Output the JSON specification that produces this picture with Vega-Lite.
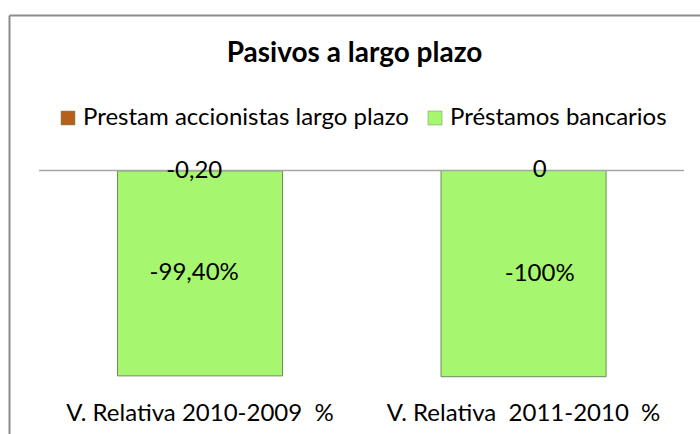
{
  "$schema": "https://vega.github.io/schema/vega-lite/v6.json",
  "width": 691,
  "height": 419,
  "autosize": {"type": "none"},
  "padding": {"left": 9, "top": 15, "right": 0, "bottom": 0},
  "background": "white",
  "title": {"text": "Pasivos a largo plazo", "font": "Lato", "fontSize": 28, "fontWeight": "bold", "color": "#000000", "anchor": "middle", "offset": -75, "baseline": "alphabetic"},
  "config": {"view": {"stroke": null}, "font": "Lato"},
  "datasets": {
    "main": [
      {"cat": "V. Relativa 2010-2009\u00a0 %", "series": "Prestam accionistas largo plazo", "value": -0.2, "label": "-0,20"},
      {"cat": "V. Relativa 2010-2009\u00a0 %", "series": "Préstamos bancarios", "value": -99.4, "label": "-99,40%"},
      {"cat": "V. Relativa\u00a0 2011-2010\u00a0 %", "series": "Prestam accionistas largo plazo", "value": 0, "label": "0"},
      {"cat": "V. Relativa\u00a0 2011-2010\u00a0 %", "series": "Préstamos bancarios", "value": -100, "label": "-100%"}
    ]
  },
  "layer": [
    {
      "data": {"name": "main"},
      "transform": [
        {"stack": "value", "groupby": ["cat"], "sort": [{"field": "series", "order": "ascending"}], "as": ["v0", "v1"]}
      ],
      "mark": {"type": "bar", "stroke": "#6e8c5a", "strokeWidth": 1},
      "encoding": {
        "x": {"field": "cat", "type": "nominal", "sort": null,
          "scale": {"paddingInner": 0.4898, "paddingOuter": 0.3128, "align": 0.536},
          "axis": {"orient": "bottom", "domain": false, "ticks": false, "grid": false, "labelFontSize": 24, "labelFont": "Lato", "labelColor": "#000000", "labelAngle": 0, "labelBaseline": "middle", "labelPadding": -21, "labelLimit": 600, "title": null}},
        "y": {"field": "v1", "type": "quantitative",
          "scale": {"domain": [-127.79, 75.41], "nice": false, "zero": false},
          "axis": {"orient": "left", "domain": true, "domainColor": "#8c8c8c", "domainWidth": 2, "ticks": false, "labels": false, "grid": false, "title": null}},
        "y2": {"field": "v0"},
        "color": {"field": "series", "type": "nominal",
          "scale": {"domain": ["Prestam accionistas largo plazo", "Préstamos bancarios"], "range": ["#b5611c", "#a6f76f"]},
          "legend": {"orient": "none", "legendX": 47, "legendY": 91, "direction": "horizontal", "columns": 2, "title": null, "symbolType": "square", "symbolSize": 196, "symbolStrokeWidth": 0.5, "labelFontSize": 24, "labelFont": "Lato", "labelColor": "#000000", "labelOffset": 3, "columnPadding": 14, "labelLimit": 600, "padding": 0}}
      }
    },
    {
      "data": {"values": [{}]},
      "mark": {"type": "rule", "color": "#a6a6a6", "strokeWidth": 1.5},
      "encoding": {
        "x": {"datum": 0, "type": "quantitative",
          "scale": {"domain": [-0.0465, 1.0248], "nice": false, "zero": false},
          "axis": {"orient": "top", "domain": true, "domainColor": "#8c8c8c", "domainWidth": 2, "ticks": false, "labels": false, "grid": false, "title": null}},
        "x2": {"datum": 1},
        "y": {"datum": 0, "type": "quantitative", "scale": {"domain": [-127.79, 75.41], "nice": false, "zero": false}}
      }
    },
    {
      "data": {"name": "main"},
      "transform": [
        {"stack": "value", "groupby": ["cat"], "sort": [{"field": "series", "order": "ascending"}], "as": ["v0", "v1"]},
        {"calculate": "(datum.v0 + datum.v1) / 2", "as": "mid"}
      ],
      "mark": {"type": "text", "fontSize": 24, "font": "Lato", "color": "#000000", "baseline": "middle"},
      "encoding": {
        "x": {"field": "cat", "type": "nominal", "sort": null,
          "scale": {"paddingInner": 0.4898, "paddingOuter": 0.3128, "align": 0.536}, "axis": null},
        "y": {"field": "mid", "type": "quantitative", "scale": {"domain": [-127.79, 75.41], "nice": false, "zero": false}},
        "text": {"field": "label"}
      }
    }
  ],
  "resolve": {"scale": {"x": "independent"}, "axis": {"x": "independent"}}
}
